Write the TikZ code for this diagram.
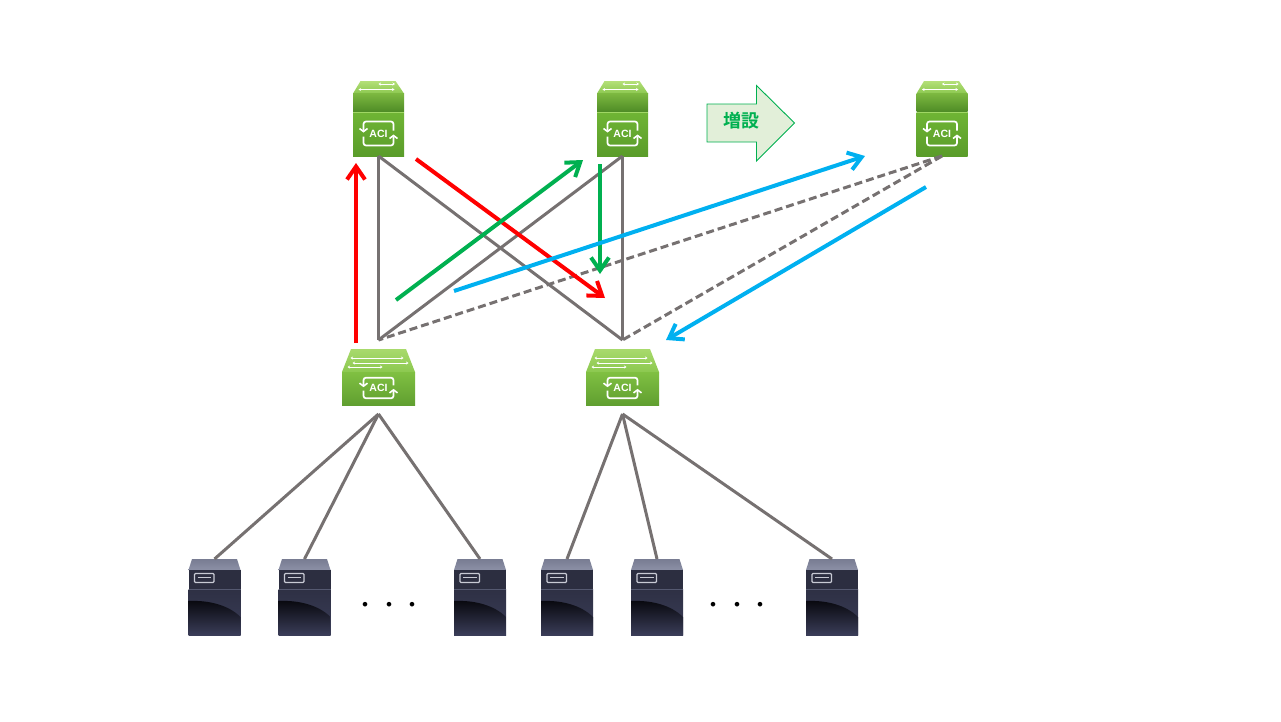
\documentclass[tikz,border=0pt]{standalone}
\usepackage{fontspec}
\setsansfont{Liberation Sans}
\newfontfamily\cjk{Noto Sans CJK JP}[BoldFont={Noto Sans CJK JP Bold}]
\usetikzlibrary{arrows.meta}
\definecolor{linegray}{HTML}{767171}
\definecolor{addgreen}{HTML}{00B050}
\definecolor{addblue}{HTML}{00B0F0}
\definecolor{addfill}{HTML}{E2EFD9}
\definecolor{sptopa}{HTML}{B4E078}
\definecolor{sptopb}{HTML}{8CC850}
\definecolor{spupa}{HTML}{7CB840}
\definecolor{spupb}{HTML}{4F8C26}
\definecolor{splowa}{HTML}{6FB534}
\definecolor{splowb}{HTML}{5A9C2A}
\definecolor{spedge}{HTML}{A0D764}
\definecolor{lftopa}{HTML}{A8DA6C}
\definecolor{lftopb}{HTML}{8CC850}
\definecolor{lflowa}{HTML}{80C042}
\definecolor{lflowb}{HTML}{609F30}
\definecolor{svtopa}{HTML}{787C92}
\definecolor{svtopb}{HTML}{8C90A6}
\definecolor{svup}{HTML}{2C2E40}
\definecolor{svlowa}{HTML}{2E3044}
\definecolor{svlowb}{HTML}{3A3D58}
\definecolor{svdark}{HTML}{08080E}
\definecolor{svedge}{HTML}{555970}
\definecolor{svport}{HTML}{C8CAD4}
\tikzset{
    link/.style={draw=linegray, line width=3pt},
    newlink/.style={link, dash pattern=on 8pt off 4pt},
    flow/.style={line width=4pt, -{Straight Barb[length=13pt,width=18pt,line width=4pt]}},
    spinebox/.style={minimum width=51pt, minimum height=75pt, inner sep=0pt, outer sep=0pt},
    leafbox/.style={minimum width=73pt, minimum height=56pt, inner sep=0pt, outer sep=0pt, outer ysep=9pt},
    serverbox/.style={minimum width=52pt, minimum height=76pt, inner sep=0pt, outer sep=0pt},
    streak/.style={white, line width=.9pt, {Stealth[length=2.5pt,width=3pt]}-{Stealth[length=2.5pt,width=3pt]}},
    aci/.pic={
        \draw[white, line width=1.7pt, rounded corners=2.5pt, -{Straight Barb[length=3pt,width=8pt,line width=1.6pt]}]
            (15,-3) -- (15,-12) -- (-15,-12) -- (-15,-1);
        \draw[white, line width=1.7pt, rounded corners=2.5pt, -{Straight Barb[length=3pt,width=8pt,line width=1.6pt]}]
            (-15,3) -- (-15,12) -- (15,12) -- (15,1);
        \node[white, font=\sffamily\bfseries\fontsize{10.5}{10.5}\selectfont, inner sep=0pt] {ACI};
    },
    spineicon/.pic={
        \shade[top color=sptopa, bottom color=sptopb]
            (-18,-37.5) -- (17,-37.5) -- (25.5,-25) -- (-25.5,-25) -- cycle;
        \draw[streak] (0,-34.5) -- (16.5,-34.5);
        \draw[streak] (-20,-29) -- (16,-29);
        \shade[top color=spupa, bottom color=spupb]
            (-25.5,-25) rectangle (25.5,-7);
        \shade[top color=splowa, bottom color=splowb]
            (-25.5,-6.5) rectangle (25.5,37.5);
        \draw[spedge, line width=.8pt] (-25.5,-6.5) -- (25.5,-6.5);
        \pic at (0,15) {aci};
    },
    leaficon/.pic={
        \shade[top color=lftopa, bottom color=lftopb]
            (-27.5,-28) -- (27.5,-28) -- (36.5,-5) -- (-36.5,-5) -- cycle;
        \draw[streak] (-28,-19) -- (25,-19);
        \draw[streak] (-26,-14) -- (30,-14);
        \draw[streak] (-31,-10) -- (4,-10);
        \shade[top color=lflowa, bottom color=lflowb]
            (-36.5,-5) rectangle (36.5,28);
        \pic[yscale=.86] at (0,11) {aci};
    },
    servericon/.pic={
        \shade[top color=svtopa, bottom color=svtopb]
            (-22.5,-38) -- (22.5,-38) -- (26,-27) -- (-26,-27) -- cycle;
        \fill[svup] (-26,-27) rectangle (26,-8);
        \shade[top color=svlowa, bottom color=svlowb]
            (-26,-8) rectangle (26,38);
        \shade[top color=svdark, bottom color=svlowb]
            (-26,4) .. controls (-6,3) and (14,8) .. (26,20) -- (26,38) -- (-26,38) -- cycle;
        \draw[svedge, line width=.7pt] (-26,-8) -- (26,-8);
        \draw[svport, line width=1.3pt, rounded corners=1pt] (-20,-23.5) rectangle (-.5,-14.5);
        \draw[svport, line width=1pt] (-17,-19.5) -- (-3.5,-19.5);
    },
}
\begin{document}
\begin{tikzpicture}[x=1pt, y=-1pt]
    \useasboundingbox (0,0) rectangle (1281,721);
    % switches
    \path (378.5,118.5) pic {spineicon} node[spinebox] (sp1) {};
    \path (622.5,118.5) pic {spineicon} node[spinebox] (sp2) {};
    \path (942,118.5) pic {spineicon} node[spinebox] (sp3) {};
    \path (378.5,377) pic {leaficon} node[leafbox] (lf1) {};
    \path (622.5,377) pic {leaficon} node[leafbox] (lf2) {};
    % servers
    \path (214.5,597) pic {servericon} node[serverbox] (sv1) {};
    \path (304.5,597) pic {servericon} node[serverbox] (sv2) {};
    \path (480,597) pic {servericon} node[serverbox] (sv3) {};
    \path (567,597) pic {servericon} node[serverbox] (sv4) {};
    \path (657,597) pic {servericon} node[serverbox] (sv5) {};
    \path (832,597) pic {servericon} node[serverbox] (sv6) {};
    \node[font=\cjk\bfseries\fontsize{18}{18}\selectfont, inner sep=0pt] (dots1) at (389,607) {・\hspace{6pt}・\hspace{6pt}・};
    \node[font=\cjk\bfseries\fontsize{18}{18}\selectfont, inner sep=0pt] (dots2) at (737,607) {・\hspace{6pt}・\hspace{6pt}・};
    % links
    \draw[link] (sp1.south) -- (lf1.north);
    \draw[link] (sp1.south) -- (lf2.north);
    \draw[link] (sp2.south) -- (lf1.north);
    \draw[link] (sp2.south) -- (lf2.north);
    \draw[newlink] (sp3.south) -- (lf1.north);
    \draw[newlink] (sp3.south) -- (lf2.north);
    \draw[link] (lf1.south) -- (sv1.north);
    \draw[link] (lf1.south) -- (sv2.north);
    \draw[link] (lf1.south) -- (sv3.north);
    \draw[link] (lf2.south) -- (sv4.north);
    \draw[link] (lf2.south) -- (sv5.north);
    \draw[link] (lf2.south) -- (sv6.north);
    % traffic
    \coordinate (r1) at (356,343); \coordinate (r2) at (356,163);
    \coordinate (r3) at (416,159); \coordinate (r4) at (605,298);
    \coordinate (g1) at (396,300); \coordinate (g2) at (583,160);
    \coordinate (g3) at (600,164); \coordinate (g4) at (600,274);
    \coordinate (b1) at (454,291); \coordinate (b2) at (865,156);
    \coordinate (b3) at (926,187); \coordinate (b4) at (666,340);
    \draw[flow, red] (r1) -- (r2);
    \draw[flow, red] (r3) -- (r4);
    \draw[flow, addgreen] (g1) -- (g2);
    \draw[flow, addgreen] (g3) -- (g4);
    \draw[flow, addblue] (b1) -- (b2);
    \draw[flow, addblue] (b3) -- (b4);
    % expansion arrow
    \draw[addgreen, fill=addfill, line width=.9pt] (707,104) -- (756.5,104) -- (756.5,85.5) -- (794.5,123) -- (756.5,161) -- (756.5,142) -- (707,142) -- cycle;
    \node[addgreen, font=\cjk\bfseries\fontsize{18}{18}\selectfont, inner sep=0pt] (zousetsu) at (741.5,121) {増設};
\end{tikzpicture}
\end{document}
